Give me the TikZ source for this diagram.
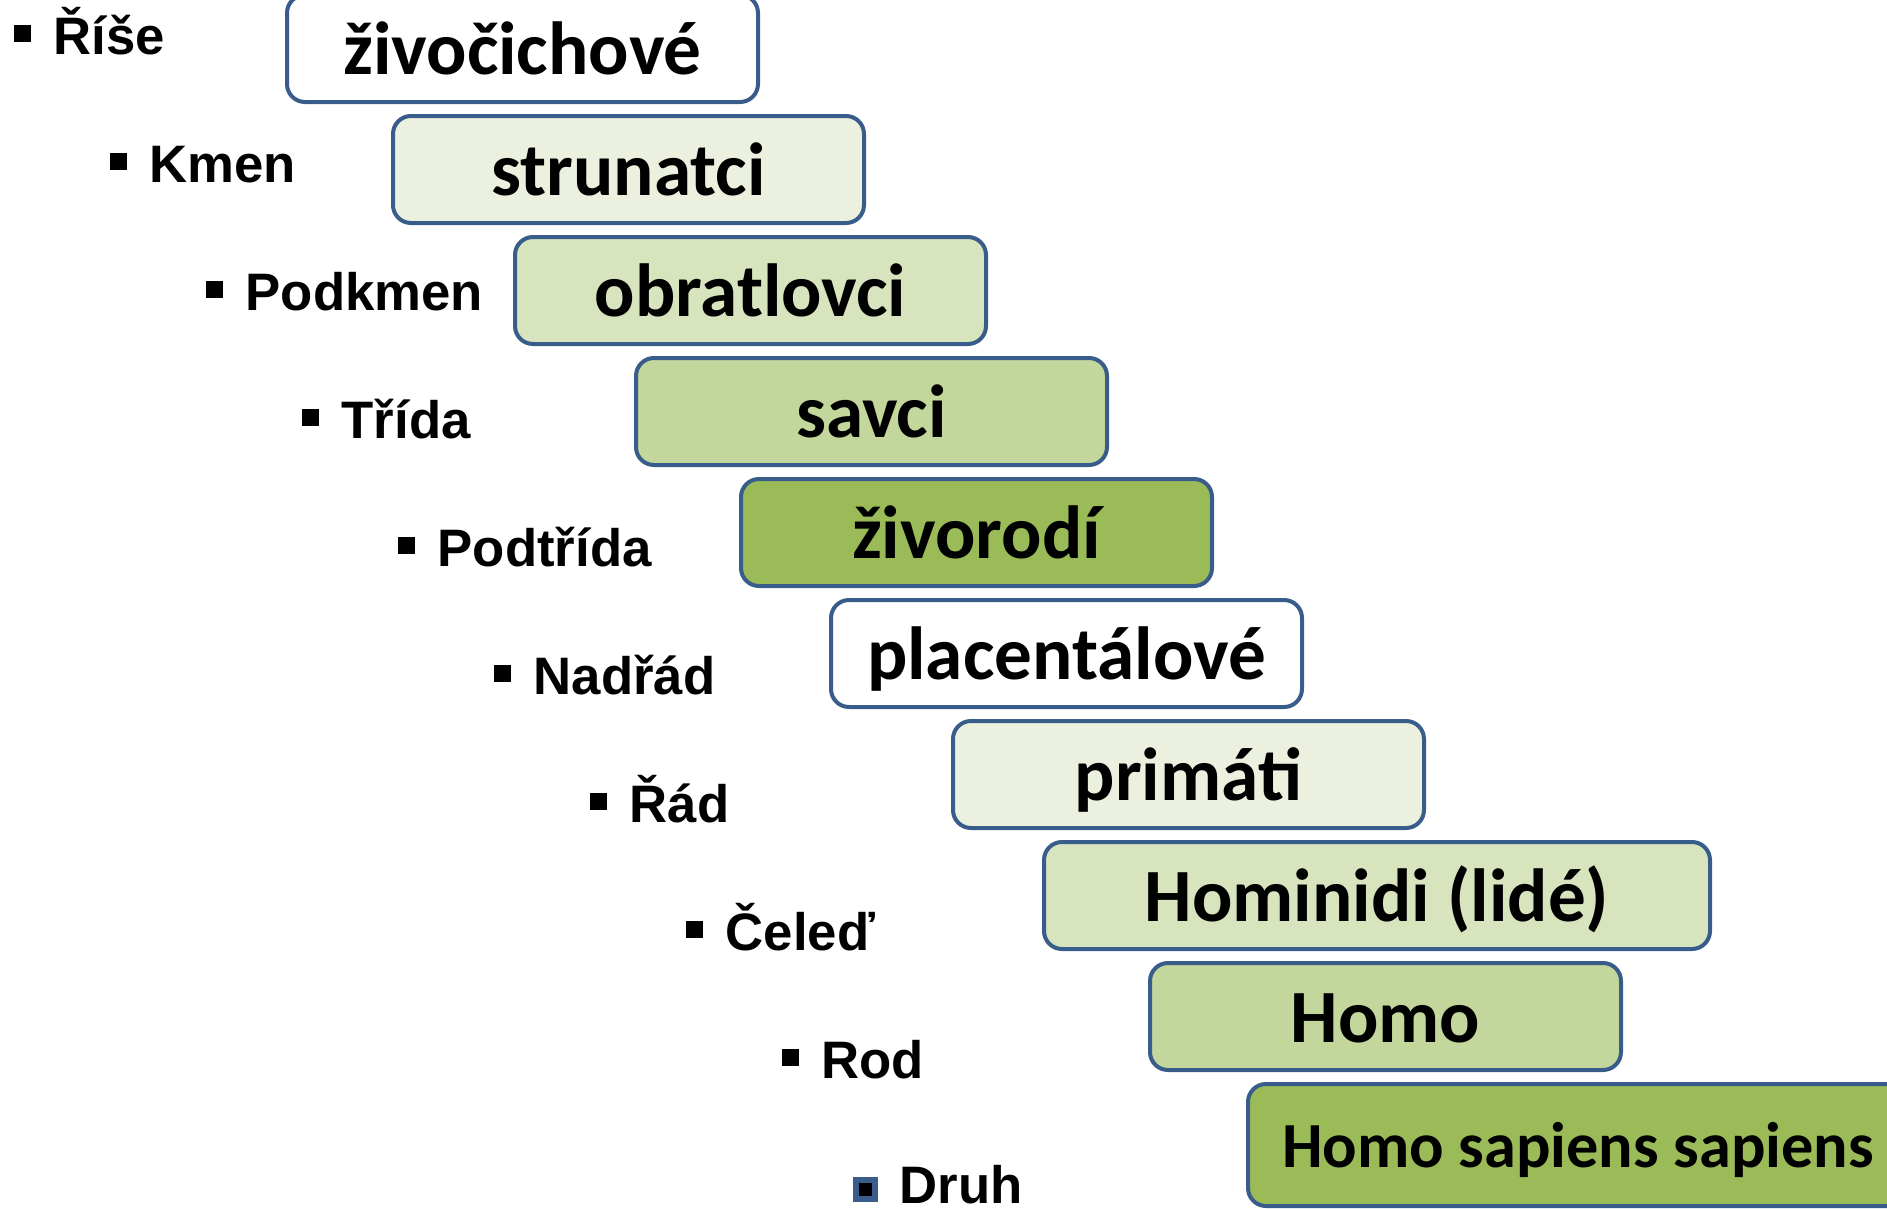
\documentclass[tikz,border=0pt]{standalone}
\usepackage{fontspec}
\setmainfont{Carlito}
\newfontfamily\rankfont{Liberation Sans}
\usepackage{xcolor}
\usepackage{tikz}
\usetikzlibrary{positioning}
\definecolor{boxborder}{RGB}{56,93,138}
\definecolor{green1}{RGB}{235,241,222}
\definecolor{green2}{RGB}{215,228,189}
\definecolor{green3}{RGB}{195,214,155}
\definecolor{green4}{RGB}{155,187,89}
\tikzstyle{taxon} = [rectangle, minimum width=47.1mm, minimum height=10.7mm, text centered, draw=boxborder, line width=0.4mm, rounded corners=1.8mm, fill=white, inner sep=0pt, text height=5.6mm, text depth=0.5mm, font=\fontsize{21.4pt}{24pt}\selectfont\bfseries]
\tikzstyle{rank} = [inner sep=0pt, anchor=base west, font=\rankfont\fontsize{15pt}{18pt}\selectfont\bfseries]
\tikzstyle{sq} = [rectangle, fill=black, minimum size=1.7mm, inner sep=0pt, outer sep=0pt]
\tikzstyle{sqdruh} = [sq, draw=boxborder, line width=0.55mm, minimum size=1.9mm]

\begin{document}
\begin{tikzpicture}[node distance=1.0mm]
        \useasboundingbox (0,0) rectangle (188.7mm,-120.9mm);

        \node (zivocichove) [taxon, anchor=north west] at (28.5mm,0.7mm) {živočichové};
        \node (strunatci) [taxon, fill=green1, below=of zivocichove.south west, anchor=north west, xshift=10.6mm] {strunatci};
        \node (obratlovci) [taxon, fill=green2, below=of strunatci.south west, anchor=north west, xshift=12.2mm] {obratlovci};
        \node (savci) [taxon, fill=green3, below=of obratlovci.south west, anchor=north west, xshift=12.1mm] {savci};
        \node (zivorodi) [taxon, fill=green4, below=of savci.south west, anchor=north west, xshift=10.5mm] {živorodí};
        \node (placentalove) [taxon, below=of zivorodi.south west, anchor=north west, xshift=9.0mm] {placentálové};
        \node (primati) [taxon, fill=green1, below=of placentalove.south west, anchor=north west, xshift=12.2mm] {primáti};
        \node (hominidi) [taxon, fill=green2, minimum width=66.6mm, below=of primati.south west, anchor=north west, xshift=9.1mm] {Hominidi (lidé)};
        \node (homo) [taxon, fill=green3, below=of hominidi.south west, anchor=north west, xshift=10.6mm] {Homo};
        \node (sapiens) [taxon, fill=green4, minimum width=66mm, minimum height=12.2mm, text height=4.9mm, font=\fontsize{18.3pt}{21pt}\selectfont\bfseries, below=of homo.south west, anchor=north west, xshift=9.8mm] {Homo sapiens sapiens};

        \node (rise) [rank] at (5.3mm,-5.4mm) {Říše};
        \node (kmen) [rank, below right=12.8mm and 9.6mm of rise.base west, anchor=base west] {Kmen};
        \node (podkmen) [rank, below right=12.8mm and 9.6mm of kmen.base west, anchor=base west] {Podkmen};
        \node (trida) [rank, below right=12.8mm and 9.6mm of podkmen.base west, anchor=base west] {Třída};
        \node (podtrida) [rank, below right=12.8mm and 9.6mm of trida.base west, anchor=base west] {Podtřída};
        \node (nadrad) [rank, below right=12.8mm and 9.6mm of podtrida.base west, anchor=base west] {Nadřád};
        \node (rad) [rank, below right=12.8mm and 9.6mm of nadrad.base west, anchor=base west] {Řád};
        \node (celed) [rank, below right=12.8mm and 9.6mm of rad.base west, anchor=base west] {Čeleď};
        \node (rod) [rank, below right=12.8mm and 9.6mm of celed.base west, anchor=base west] {Rod};
        \node (druh) [rank, below right=12.5mm and 7.8mm of rod.base west, anchor=base west] {Druh};

        \node (brise) [sq, left=2.2mm of rise.base west, anchor=south east, yshift=1.2mm] {};
        \node (bkmen) [sq, left=2.2mm of kmen.base west, anchor=south east, yshift=1.2mm] {};
        \node (bpodkmen) [sq, left=2.2mm of podkmen.base west, anchor=south east, yshift=1.2mm] {};
        \node (btrida) [sq, left=2.2mm of trida.base west, anchor=south east, yshift=1.2mm] {};
        \node (bpodtrida) [sq, left=2.2mm of podtrida.base west, anchor=south east, yshift=1.2mm] {};
        \node (bnadrad) [sq, left=2.2mm of nadrad.base west, anchor=south east, yshift=1.2mm] {};
        \node (brad) [sq, left=2.2mm of rad.base west, anchor=south east, yshift=1.2mm] {};
        \node (bceled) [sq, left=2.2mm of celed.base west, anchor=south east, yshift=1.2mm] {};
        \node (brod) [sq, left=2.2mm of rod.base west, anchor=south east, yshift=1.2mm] {};
        \node (bdruh) [sqdruh, left=2.4mm of druh.base west, anchor=south east, yshift=0.4mm] {};
\end{tikzpicture}
\end{document}
